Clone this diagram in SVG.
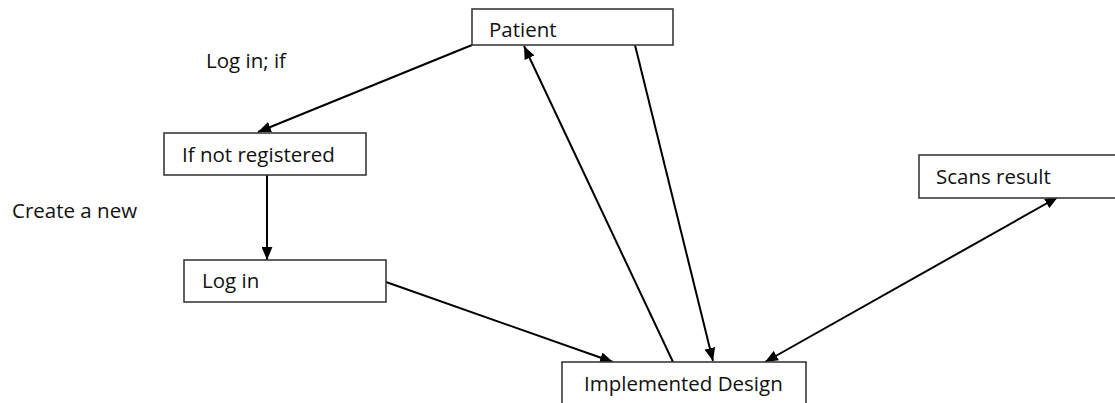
<svg xmlns="http://www.w3.org/2000/svg" width="1115" height="403" viewBox="0 0 1115 403">
<style>
.box{fill:#fff;stroke:#3a3a3a;stroke-width:1.6}
.t{font-family:"Open Sans","Noto Sans",sans-serif;font-size:20.5px;fill:#111}
.c{stroke:#000;stroke-width:2;fill:none}
</style>
<defs>
<marker id="ah" viewBox="0 0 12 10" refX="12" refY="5" markerWidth="13" markerHeight="11" markerUnits="userSpaceOnUse" orient="auto-start-reverse">
<path d="M0,0 L12,5 L0,10 z" fill="#000"/>
</marker>
</defs>
<rect width="1115" height="403" fill="#fff"/>
<g id="connectors">
<line class="c" x1="472" y1="45" x2="258" y2="132" marker-end="url(#ah)"/>
<line class="c" x1="267" y1="175" x2="267" y2="260" marker-end="url(#ah)"/>
<line class="c" x1="386" y1="282" x2="613" y2="362" marker-end="url(#ah)"/>
<line class="c" x1="673" y1="362" x2="524" y2="46" marker-end="url(#ah)"/>
<line class="c" x1="635" y1="45" x2="713" y2="361" marker-end="url(#ah)"/>
<line class="c" x1="765" y1="362" x2="1058" y2="197" marker-start="url(#ah)" marker-end="url(#ah)"/>
</g>
<g id="patient"><rect class="box" x="472" y="9" width="201" height="36"/><text class="t" x="489" y="37">Patient</text></g>
<g id="not-registered"><rect class="box" x="164" y="133" width="202" height="42"/><text class="t" x="182" y="162">If not registered</text></g>
<g id="login"><rect class="box" x="184" y="260" width="202" height="42"/><text class="t" x="202" y="288">Log in</text></g>
<g id="implemented"><rect class="box" x="562" y="362" width="244" height="50"/><text class="t" x="584" y="391">Implemented Design</text></g>
<g id="scans"><rect class="box" x="919" y="155" width="200" height="43"/><text class="t" x="936" y="184">Scans result</text></g>
<g id="label-login-if"><text class="t" x="206" y="68">Log in; if</text></g>
<g id="label-create"><text class="t" x="12" y="218">Create a new</text></g>
</svg>
